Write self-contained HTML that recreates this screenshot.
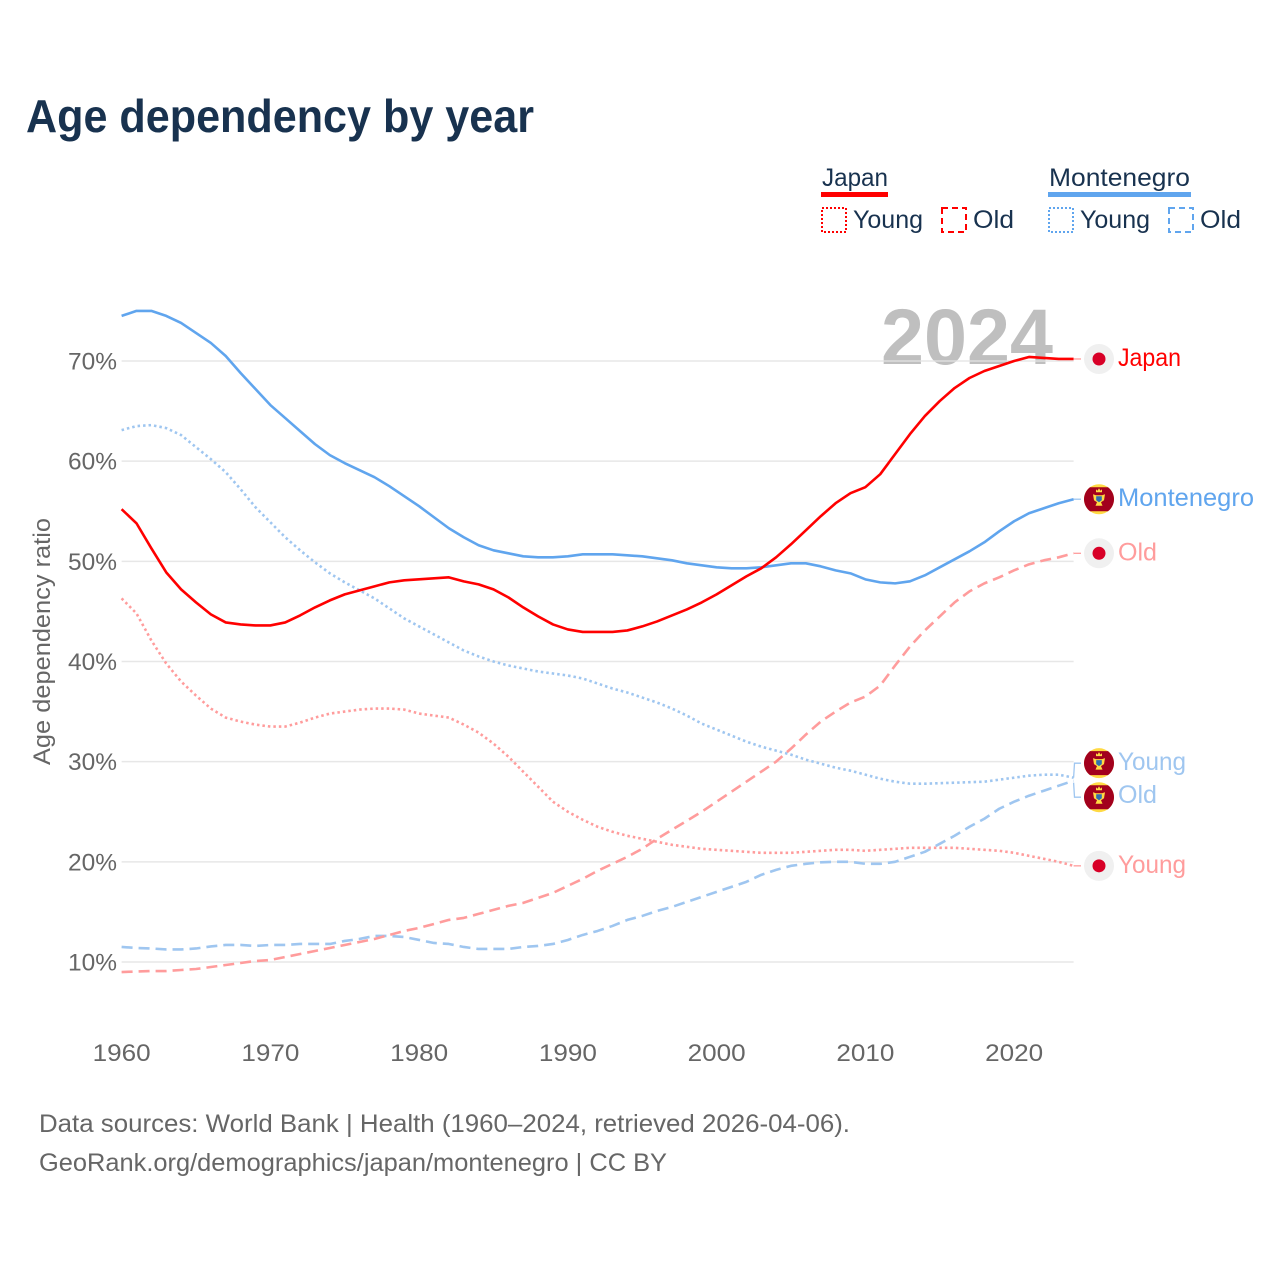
<!DOCTYPE html>
<html lang="en">
<head>
<meta charset="utf-8">
<title>Age dependency by year</title>
<style>
html,body{margin:0;padding:0;background:#fff;}
svg{display:block;}
text{font-family:"Liberation Sans",sans-serif;}
</style>
</head>
<body>
<svg id="chart" xmlns="http://www.w3.org/2000/svg" width="1280" height="1280" viewBox="0 0 1280 1280">
  <rect width="1280" height="1280" fill="#fff"/>
  <text x="26" y="132" font-size="46" font-weight="700" fill="#18324f" textLength="508" lengthAdjust="spacingAndGlyphs">Age dependency by year</text>

  <g font-size="25" fill="#18324f">
    <g>
      <text x="822" y="186" textLength="66" lengthAdjust="spacingAndGlyphs">Japan</text>
      <rect x="821" y="192" width="67" height="5" fill="#ff0000"/>
      <rect x="822" y="208" width="24" height="24" fill="none" stroke="#ff0000" stroke-width="2" stroke-dasharray="2 2"/>
      <text x="853" y="228" textLength="70" lengthAdjust="spacingAndGlyphs">Young</text>
      <rect x="942" y="208" width="24" height="24" fill="none" stroke="#ff0000" stroke-width="2" stroke-dasharray="6 4"/>
      <text x="973" y="228" textLength="41" lengthAdjust="spacingAndGlyphs">Old</text>
    </g>
    <g>
      <text x="1049" y="186" textLength="141" lengthAdjust="spacingAndGlyphs">Montenegro</text>
      <rect x="1048" y="192" width="143" height="5" fill="#60a5ee"/>
      <rect x="1049" y="208" width="24" height="24" fill="none" stroke="#60a5ee" stroke-width="2" stroke-dasharray="2 2"/>
      <text x="1080" y="228" textLength="70" lengthAdjust="spacingAndGlyphs">Young</text>
      <rect x="1169" y="208" width="24" height="24" fill="none" stroke="#60a5ee" stroke-width="2" stroke-dasharray="6 4"/>
      <text x="1200" y="228" textLength="41" lengthAdjust="spacingAndGlyphs">Old</text>
    </g>
  </g>

  <text x="881" y="364" font-size="79" font-weight="700" fill="#bfbfbf" textLength="172" lengthAdjust="spacingAndGlyphs">2024</text>

  <g id="grid"></g>
  <g id="yticks"></g>
  <g id="xticks"></g>
  <text transform="translate(50 641.5) rotate(-90)" text-anchor="middle" font-size="24" fill="#666" textLength="247" lengthAdjust="spacingAndGlyphs">Age dependency ratio</text>
  <g id="series"></g>
  <g id="endlabels"></g>

  <text x="39" y="1132" font-size="25" fill="#666" textLength="811" lengthAdjust="spacingAndGlyphs">Data sources: World Bank | Health (1960–2024, retrieved 2026-04-06).</text>
  <text x="39" y="1171" font-size="25" fill="#666" textLength="628" lengthAdjust="spacingAndGlyphs">GeoRank.org/demographics/japan/montenegro | CC BY</text>
</svg>
<script>
const startYear = 1960;
const yTickValues = [10, 20, 30, 40, 50, 60, 70];
const xTickValues = [1960, 1970, 1980, 1990, 2000, 2010, 2020];

const japanTotal = [55.2,53.8,51.3,48.9,47.2,45.9,44.7,43.9,43.7,43.6,43.6,43.9,44.6,45.4,46.1,46.7,47.1,47.5,47.9,48.1,48.2,48.3,48.4,48.0,47.7,47.2,46.4,45.4,44.5,43.7,43.2,42.95,42.95,42.95,43.1,43.5,44.0,44.6,45.2,45.9,46.7,47.6,48.5,49.3,50.4,51.7,53.1,54.5,55.8,56.8,57.4,58.7,60.7,62.7,64.5,66.0,67.3,68.3,69.0,69.5,70.0,70.4,70.3,70.2,70.2];
const japanYoung = [46.3,44.8,42.1,39.8,38.0,36.6,35.3,34.4,34.0,33.7,33.5,33.5,33.9,34.4,34.8,35.0,35.2,35.3,35.3,35.2,34.8,34.6,34.4,33.7,32.9,31.8,30.5,29.0,27.5,26.0,25.0,24.2,23.5,23.0,22.6,22.3,22.0,21.7,21.5,21.3,21.2,21.1,21.0,20.9,20.9,20.9,21.0,21.1,21.2,21.2,21.1,21.2,21.3,21.4,21.4,21.4,21.4,21.3,21.2,21.1,20.9,20.6,20.3,20.0,19.6];
const japanOld = [9.0,9.05,9.1,9.1,9.2,9.3,9.5,9.7,9.9,10.1,10.2,10.5,10.8,11.1,11.4,11.7,12.0,12.3,12.7,13.1,13.4,13.8,14.2,14.4,14.8,15.2,15.6,15.9,16.4,16.9,17.6,18.3,19.1,19.8,20.5,21.3,22.3,23.2,24.1,25.0,26.0,27.0,28.0,29.0,30.0,31.3,32.7,34.0,35.0,35.9,36.5,37.6,39.6,41.5,43.1,44.5,45.9,47.0,47.8,48.4,49.1,49.7,50.1,50.4,50.8];
const montenegroTotal = [74.5,75.0,75.0,74.5,73.8,72.8,71.8,70.5,68.8,67.2,65.6,64.3,63.0,61.7,60.6,59.8,59.1,58.4,57.5,56.5,55.5,54.4,53.3,52.4,51.6,51.1,50.8,50.5,50.4,50.4,50.5,50.7,50.7,50.7,50.6,50.5,50.3,50.1,49.8,49.6,49.4,49.3,49.3,49.4,49.6,49.8,49.8,49.5,49.1,48.8,48.2,47.9,47.8,48.0,48.6,49.4,50.2,51.0,51.9,53.0,54.0,54.8,55.3,55.8,56.2];
const montenegroYoung = [63.1,63.5,63.6,63.3,62.6,61.4,60.2,58.9,57.2,55.4,53.9,52.4,51.1,49.9,48.8,47.9,47.1,46.3,45.3,44.3,43.5,42.7,41.9,41.1,40.5,40.0,39.6,39.3,39.0,38.8,38.6,38.3,37.8,37.3,36.9,36.4,35.9,35.3,34.6,33.8,33.2,32.6,32.0,31.5,31.1,30.7,30.2,29.8,29.4,29.1,28.7,28.3,28.0,27.8,27.8,27.85,27.9,27.95,28.0,28.2,28.4,28.6,28.7,28.7,28.4];
const montenegroOld = [11.5,11.4,11.35,11.25,11.25,11.35,11.55,11.7,11.7,11.6,11.7,11.7,11.8,11.8,11.8,12.1,12.3,12.6,12.6,12.5,12.2,11.9,11.8,11.5,11.3,11.3,11.3,11.5,11.6,11.8,12.2,12.7,13.1,13.6,14.2,14.6,15.1,15.5,16.0,16.5,17.0,17.5,18.0,18.7,19.2,19.6,19.8,19.95,20.0,20.0,19.8,19.8,20.0,20.5,21.0,21.8,22.6,23.5,24.3,25.3,26.0,26.6,27.1,27.6,28.1];

const SVGNS = 'http://www.w3.org/2000/svg';
const xScale = function (year) { return 121.6 + (year - 1960) * 14.875; };
const yScale = function (v) { return 962 - (v - 10) * 10.017; };

function mk(tag, attrs, parent) {
  const el = document.createElementNS(SVGNS, tag);
  for (const k in attrs) el.setAttribute(k, attrs[k]);
  parent.appendChild(el);
  return el;
}

const grid = document.getElementById('grid');
const yticks = document.getElementById('yticks');
yTickValues.forEach(function (v) {
  const line = mk('line', {x1: xScale(1960), x2: xScale(2024), y1: yScale(v), y2: yScale(v), stroke: '#e3e3e3', 'stroke-width': 1.5, 'stroke-opacity': 0.85}, grid);
  
  
  const t = mk('text', {x: 117, y: yScale(v) + 8.5, 'text-anchor': 'end', 'font-size': 24, fill: '#666', textLength: 49, lengthAdjust: 'spacingAndGlyphs'}, yticks);
  
  
  t.textContent = v + '%';
});

const xticks = document.getElementById('xticks');
xTickValues.forEach(function (yr) {
  const t = mk('text', {x: xScale(yr), y: 1061, 'text-anchor': 'middle', 'font-size': 24, fill: '#666', textLength: 58, lengthAdjust: 'spacingAndGlyphs'}, xticks);
  
  
  t.textContent = yr;
});

const series = document.getElementById('series');
function drawLine(values, color, dash, name) {
  const pts = values.map(function (v, i) { return xScale(startYear + i).toFixed(2) + ',' + yScale(v).toFixed(2); }).join(' ');
  const attrs = {points: pts, fill: 'none', stroke: color, 'stroke-width': 2.6, 'stroke-linejoin': 'round'};
  if (dash) attrs['stroke-dasharray'] = dash;
  const el = mk('polyline', attrs, series);
  
  
}
drawLine(montenegroYoung, '#9fc6f0', '2.5 3', 'line-montenegro-young');
drawLine(montenegroOld, '#9fc6f0', '11 6', 'line-montenegro-old');
drawLine(japanYoung, '#ff9c9c', '2.5 3', 'line-japan-young');
drawLine(japanOld, '#ff9c9c', '11 6', 'line-japan-old');
drawLine(montenegroTotal, '#60a5ee', null, 'line-montenegro-total');
drawLine(japanTotal, '#ff0000', null, 'line-japan-total');

const endlabels = document.getElementById('endlabels');
function japanFlag(cx, cy) {
  const g = mk('g', {}, endlabels);
  
  
  mk('circle', {cx: cx, cy: cy, r: 15, fill: '#f0f0f0'}, g);
  mk('circle', {cx: cx, cy: cy, r: 6.5, fill: '#d80027'}, g);
}
function montenegroFlag(cx, cy) {
  const g = mk('g', {transform: 'translate(' + cx + ' ' + cy + ')'}, endlabels);
  
  
  mk('circle', {r: 15, fill: '#ffda44'}, g);
  mk('path', {d: 'M-9,-12 L9,-12 A15,15 0 0 1 9,12 L-9,12 A15,15 0 0 1 -9,-12 Z', fill: '#a2001d'}, g);
  mk('path', {d: 'M-3,-7 L-3,-10 L-1.5,-8.5 L0,-11 L1.5,-8.5 L3,-10 L3,-7 Z', fill: '#ffda44'}, g);
  mk('path', {d: 'M-6,-5 L-3,-4 L3,-4 L6,-5 L5,1 L2,3 L3.5,6.5 L-3.5,6.5 L-2,3 L-5,1 Z', fill: '#ffda44'}, g);
  mk('path', {d: 'M-2.8,-3 L2.8,-3 L2.8,1 L0,3 L-2.8,1 Z', fill: '#2f6fb0'}, g);
}
function connector(points, color, name) {
  const c = mk('polyline', {points: points, fill: 'none', stroke: color, 'stroke-width': 1.3}, endlabels);
  
  
}
function endLabel(text, y, color, width, name) {
  const t = mk('text', {x: 1118, y: y + 8, 'font-size': 25, fill: color, textLength: width, lengthAdjust: 'spacingAndGlyphs'}, endlabels);
  
  
  t.textContent = text;
}

const endX = xScale(2024);
const yJT = yScale(japanTotal[64]);
const yMT = yScale(montenegroTotal[64]);
const yJO = yScale(japanOld[64]);
const yJY = yScale(japanYoung[64]);
const yMY = yScale(montenegroYoung[64]);
const yMO = yScale(montenegroOld[64]);
const yMYl = yMY - 14.5;
const yMOl = yMO + 16.5;

connector(endX + ',' + yJT + ' 1081,' + yJT, '#ff9c9c', 'connector-japan-total');
connector(endX + ',' + yMT + ' 1081,' + yMT, '#9fc6f0', 'connector-montenegro-total');
connector(endX + ',' + yJO + ' 1081,' + yJO, '#ff9c9c', 'connector-japan-old');
connector(endX + ',' + yJY + ' 1081,' + yJY, '#ff9c9c', 'connector-japan-young');
connector(endX + ',' + yMY + ' 1074.5,' + yMYl + ' 1081,' + yMYl, '#9fc6f0', 'connector-montenegro-young');
connector(endX + ',' + (yMO + 2) + ' 1074.5,' + yMOl + ' 1081,' + yMOl, '#9fc6f0', 'connector-montenegro-old');

japanFlag(1099, yJT);
montenegroFlag(1099, yMT);
japanFlag(1099, yJO);
montenegroFlag(1099, yMYl);
montenegroFlag(1099, yMOl);
japanFlag(1099, yJY);

endLabel('Japan', yJT - 1, '#ff0000', 63, 'end-label-japan');
endLabel('Montenegro', yMT - 1, '#60a5ee', 136, 'end-label-montenegro');
endLabel('Old', yJO - 1, '#ff9c9c', 39, 'end-label-japan-old');
endLabel('Young', yMYl - 1, '#9fc6f0', 68, 'end-label-montenegro-young');
endLabel('Old', yMOl - 2, '#9fc6f0', 39, 'end-label-montenegro-old');
endLabel('Young', yJY - 1, '#ff9c9c', 68, 'end-label-japan-young');
</script>
</body>
</html>
